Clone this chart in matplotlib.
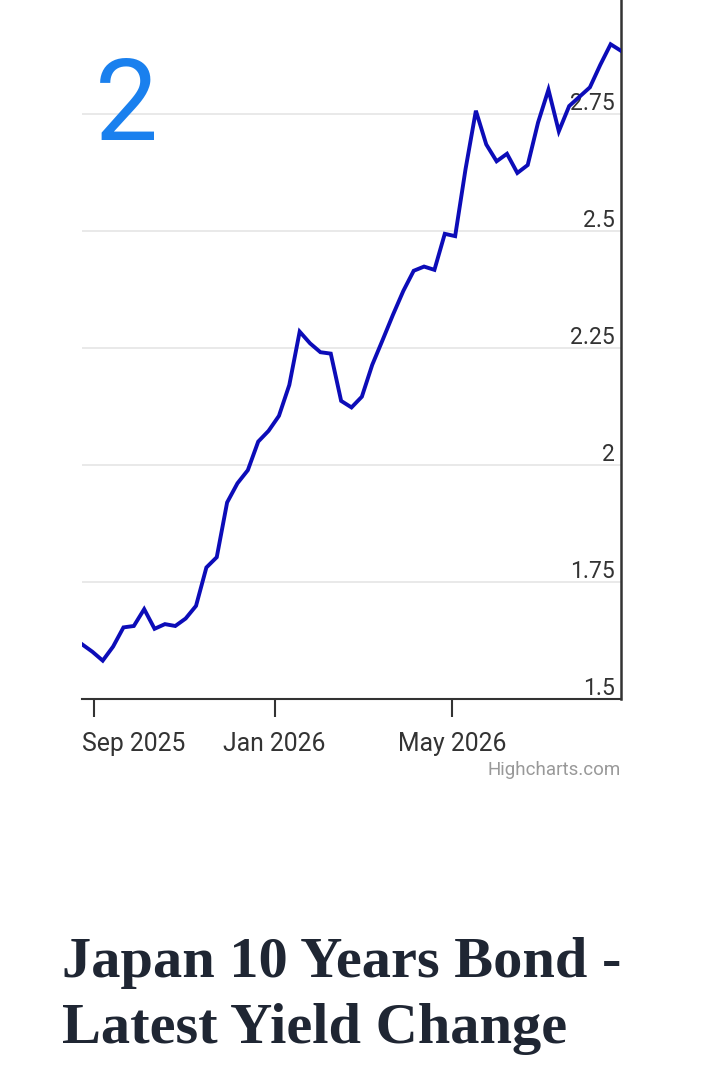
import matplotlib
matplotlib.use("Agg")
import matplotlib.pyplot as plt
import pandas as pd

# weekly yields, first point 2025-08-24
start_date = "2025-08-24"
yields = [1.617, 1.601, 1.582, 1.612, 1.653, 1.656, 1.692, 1.650, 1.660, 1.656,
          1.672, 1.699, 1.781, 1.803, 1.920, 1.961, 1.989, 2.050, 2.073, 2.105,
          2.171, 2.285, 2.260, 2.241, 2.238, 2.137, 2.123, 2.146, 2.214, 2.267,
          2.321, 2.372, 2.415, 2.424, 2.417, 2.494, 2.489, 2.632, 2.757, 2.685,
          2.649, 2.665, 2.624, 2.641, 2.732, 2.802, 2.713, 2.767, 2.787, 2.807,
          2.855, 2.899, 2.885]
y_ticks = [1.5, 1.75, 2, 2.25, 2.5, 2.75]
y_labels = ["1.5", "1.75", "2", "2.25", "2.5", "2.75"]
x_ticks = ["2025-09-01", "2026-01-01", "2026-05-01"]
x_labels = ["Sep 2025", "Jan 2026", "May 2026"]
title_lines = ["Japan 10 Years Bond -", "Latest Yield Change"]

dates = pd.date_range(start_date, periods=len(yields), freq="7D")

W, H = 702, 1080
fig = plt.figure(figsize=(W / 100, H / 100), dpi=100)
fig.patch.set_facecolor("white")

ax = fig.add_axes([82 / W, 381 / H, (621 - 82) / W, 699 / H])
ax.plot(dates, yields, color="#0c0cb8", lw=2.8, zorder=3, solid_joinstyle="miter")
ax.set_xlim(dates[0], dates[-1])
ax.set_ylim(1.5, 2.9936)

ax.set_yticks(y_ticks)
ax.tick_params(axis="y", length=0, labelleft=False)
ax.grid(axis="y", color="#e3e3e3", lw=1.1, zorder=0)
for v, lab in zip(y_ticks, y_labels):
    ax.annotate(lab, xy=(1, v), xycoords=("axes fraction", "data"),
                xytext=(-4.5, 2.8), textcoords="offset points",
                ha="right", va="baseline", fontsize=16.5, family="Roboto",
                color="#333333", zorder=2)

ax.set_xticks(pd.to_datetime(x_ticks))
ax.set_xticklabels([])
ax.tick_params(axis="x", length=13, width=1.5, color="#333333", direction="out")
for i, (t, lab) in enumerate(zip(pd.to_datetime(x_ticks), x_labels)):
    if i == 0:
        # highcharts pushes the first label inside the plot
        ax.text(0, -52 / 699, lab, transform=ax.transAxes, ha="left",
                va="baseline", fontsize=17.8, family="Roboto", color="#333333")
    else:
        ax.text(t, -52 / 699, lab, transform=ax.get_xaxis_transform(),
                ha="center", va="baseline", fontsize=17.8, family="Roboto",
                color="#333333")

for side in ["top", "left"]:
    ax.spines[side].set_visible(False)
ax.spines["bottom"].set_color("#333333")
ax.spines["bottom"].set_linewidth(1.5)
ax.spines["right"].set_color("#333333")
ax.spines["right"].set_linewidth(1.8)

fig.text(621 / W, 1 - 775 / H, "Highcharts.com", ha="right", va="baseline",
         fontsize=13.5, family="Roboto", color="#999999")

fig.text(95 / W, 1 - 140 / H, "2", ha="left", va="baseline", fontsize=81,
         family="Roboto", color="#1a80ee")

fig.text(62 / W, 1 - 977 / H, title_lines[0], ha="left", va="baseline",
         fontsize=42, family="Liberation Serif", weight="bold", color="#1f2633")
fig.text(62 / W, 1 - 1043 / H, title_lines[1], ha="left", va="baseline",
         fontsize=42, family="Liberation Serif", weight="bold", color="#1f2633")

fig.savefig("out.png", dpi=100)
